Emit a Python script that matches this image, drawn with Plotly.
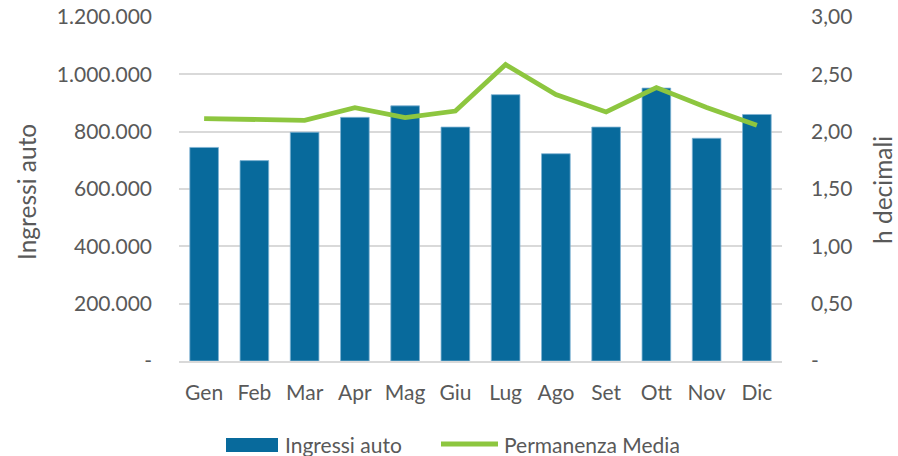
import plotly.graph_objects as go

months = ["Gen", "Feb", "Mar", "Apr", "Mag", "Giu", "Lug", "Ago", "Set", "Ott", "Nov", "Dic"]
ingressi_auto = [745000, 699000, 798000, 850000, 890000, 816000, 929000, 723000, 816000, 952000, 777000, 860000]
permanenza_media = [2.114, 2.107, 2.099, 2.21, 2.123, 2.18, 2.585, 2.323, 2.172, 2.384, 2.21, 2.056]

left_ticks = [0, 200000, 400000, 600000, 800000, 1000000, 1200000]
left_labels = ["-", "200.000", "400.000", "600.000", "800.000", "1.000.000", "1.200.000"]
right_ticks = [0, 0.5, 1.0, 1.5, 2.0, 2.5, 3.0]
right_labels = ["-", "0,50", "1,00", "1,50", "2,00", "2,50", "3,00"]

FONT = "Lato, 'Open Sans', sans-serif"
TXT = "#595959"
BAR = "#086A9C"
GREEN = "#8DC63F"

W, H = 898, 456
l, r, t, b = 179, 116, 17, 95
pw, ph = W - l - r, H - t - b
def px(x):
    return (x - l) / pw
def py(y):
    return (H - b - y) / ph

fig = go.Figure()
fig.add_trace(go.Bar(x=months, y=ingressi_auto, name="Ingressi auto",
                     marker=dict(color=BAR, line=dict(color="#7FB3D3", width=0.8)),
                     yaxis="y"))
fig.add_trace(go.Scatter(x=months, y=permanenza_media, name="Permanenza Media",
                         mode="lines", line=dict(color=GREEN, width=4.8),
                         yaxis="y2"))

fig.update_layout(
    width=W, height=H,
    margin=dict(l=l, r=r, t=t, b=b),
    paper_bgcolor="white", plot_bgcolor="white",
    font=dict(family=FONT, size=21, color=TXT),
    showlegend=False,
    bargap=0.43,
    xaxis=dict(showgrid=False, showline=True, linecolor="#D9D9D9", linewidth=1.5,
               ticks="", ticklabelstandoff=12, automargin=False,
               tickfont=dict(size=21, color=TXT)),
    yaxis=dict(range=[0, 1200000], tickvals=left_ticks, ticktext=left_labels,
               showgrid=True, gridcolor="#D9D9D9", gridwidth=1.5, zeroline=False,
               ticks="", ticklabelstandoff=26, automargin=False,
               tickfont=dict(size=21, color=TXT)),
    yaxis2=dict(range=[0, 3], tickvals=right_ticks, ticktext=right_labels,
                overlaying="y", side="right", showgrid=False, zeroline=False,
                ticks="", ticklabelstandoff=28, automargin=False,
                tickfont=dict(size=21, color=TXT)),
)

# axis titles
fig.add_annotation(text="Ingressi auto", x=px(26), y=py(192), xref="paper", yref="paper",
                   xanchor="center", yanchor="middle",
                   showarrow=False, textangle=-90, font=dict(size=24.5, color=TXT))
fig.add_annotation(text="h decimali", x=px(882), y=py(190), xref="paper", yref="paper",
                   xanchor="center", yanchor="middle",
                   showarrow=False, textangle=-90, font=dict(size=24.5, color=TXT))

# manual legend
fig.add_shape(type="rect", xref="paper", yref="paper",
              x0=px(226), x1=px(278), y0=py(452), y1=py(438),
              fillcolor=BAR, line=dict(width=0))
fig.add_annotation(text="Ingressi auto", xref="paper", yref="paper",
                   x=px(283), y=py(444), xanchor="left", yanchor="middle",
                   showarrow=False, font=dict(size=21, color=TXT))
fig.add_shape(type="line", xref="paper", yref="paper",
              x0=px(441), x1=px(498), y0=py(444), y1=py(444),
              line=dict(color=GREEN, width=4.8))
fig.add_annotation(text="Permanenza Media", xref="paper", yref="paper",
                   x=px(502), y=py(444), xanchor="left", yanchor="middle",
                   showarrow=False, font=dict(size=21, color=TXT))

fig.write_html("out.html", config={"displayModeBar": False},
               post_script="document.body.style.margin='0';document.body.style.overflow='hidden';")
